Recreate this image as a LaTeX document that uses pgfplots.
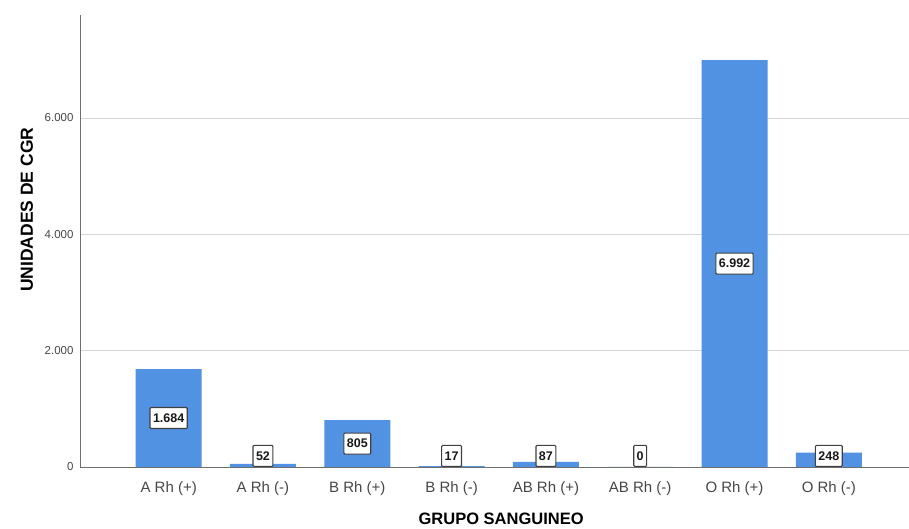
\documentclass[border=0pt]{standalone}
\usepackage{pgfplots}
\pgfplotsset{compat=1.18}
\usepackage{fontspec}
\setmainfont{Liberation Sans}
\definecolor{barblue}{RGB}{82,146,226}
\definecolor{gridgray}{RGB}{214,214,214}
\definecolor{axgray}{RGB}{110,110,110}
\definecolor{tickgray}{RGB}{70,70,70}
\begin{document}
\begin{tikzpicture}
\begin{axis}[
  scale only axis,
  width=829pt, height=452pt,
  xmin=-0.94, xmax=7.85,
  ymin=0, ymax=7770,
  axis x line*=bottom, axis y line*=left,
  axis line style={axgray, line width=0.9pt, -},
  xtick={0,1,2,3,4,5,6,7},
  xticklabels={A Rh (+), A Rh (-), B Rh (+), B Rh (-), AB Rh (+), AB Rh (-), O Rh (+), O Rh (-)},
  ytick={0,2000,4000,6000},
  major tick length=0pt,
  ymajorgrids, grid style={gridgray, line width=0.8pt},
  /pgf/number format/.cd, 1000 sep={.}, assume math mode=true,
  /pgfplots/.cd,
  scaled y ticks=false,
  xticklabel style={font=\fontsize{15}{17}\selectfont, text=tickgray, anchor=center, yshift=-22pt},
  yticklabel style={font=\fontsize{11.5}{13}\selectfont, text=tickgray, anchor=east, xshift=-3pt},
  xlabel={GRUPO SANGUINEO},
  ylabel={UNIDADES DE CGR},
  xlabel style={font=\bfseries\fontsize{16.5}{19}\selectfont, at={(axis description cs:0.508,-0.115)}, anchor=center},
  ylabel style={font=\bfseries\fontsize{17.5}{20}\selectfont, at={(axis description cs:-0.064,0.569)}, anchor=center, rotate=0},
  clip=false,
]
\addplot[ybar, bar width=66pt, fill=barblue, draw=none] coordinates {
  (0,1684) (1,52) (2,805) (3,17) (4,87) (5,0) (6,6992) (7,248)
};
\addplot[draw=none, mark=none, nodes near coords, point meta=explicit symbolic,
  nodes near coords align=center,
  every node near coord/.append style={font=\bfseries\fontsize{12.5}{14}\selectfont,
    draw=black!75, fill=white, line width=1.1pt, rounded corners=1pt,
    inner xsep=3pt, inner ysep=0pt, minimum height=21pt, text=black!90}]
coordinates {
  (0,842)[1.684] (1,190)[52] (2,402)[805] (3,190)[17] (4,190)[87] (5,190)[0] (6,3496)[6.992] (7,190)[248]
};
\coordinate (bl) at (rel axis cs:0,0);
\coordinate (tr) at (rel axis cs:1,1);
\end{axis}
\pgfresetboundingbox
\path ([shift={(-80pt,-62pt)}]bl) rectangle ([shift={(0pt,15pt)}]tr);
\end{tikzpicture}
\end{document}
